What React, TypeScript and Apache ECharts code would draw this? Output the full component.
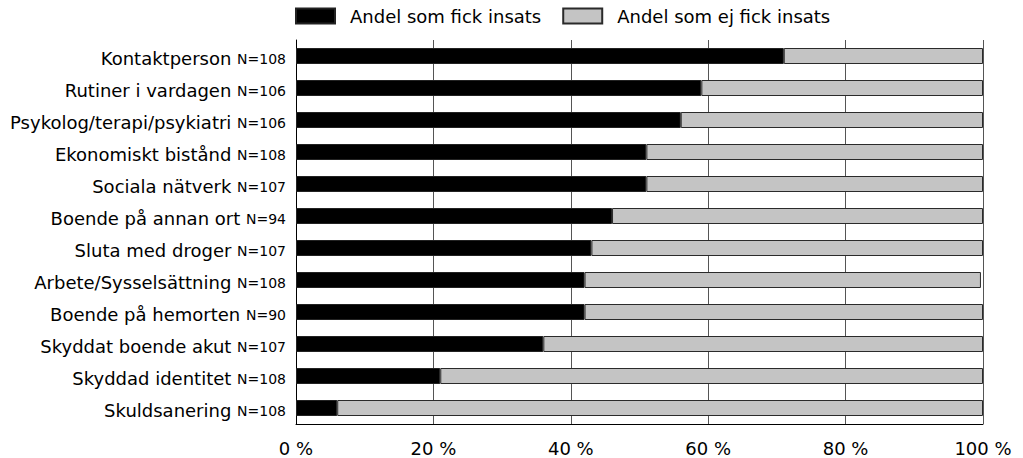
import React, { useEffect, useRef } from "react";
import * as echarts from "echarts";

const categories = [
  "Kontaktperson",
  "Rutiner i vardagen",
  "Psykolog/terapi/psykiatri",
  "Ekonomiskt bistånd",
  "Sociala nätverk",
  "Boende på annan ort",
  "Sluta med droger",
  "Arbete/Sysselsättning",
  "Boende på hemorten",
  "Skyddat boende akut",
  "Skyddad identitet",
  "Skuldsanering",
];
const sampleSizes = ["N=108", "N=106", "N=106", "N=108", "N=107", "N=94", "N=107", "N=108", "N=90", "N=107", "N=108", "N=108"];
const receivedShare = [71, 59, 56, 51, 51, 46, 43, 42, 42, 36, 21, 6];
const notReceivedShare = [29, 41, 44, 49, 49, 54, 57, 57.7, 58, 64, 79, 94];
const xTicks = [0, 20, 40, 60, 80, 100];
const seriesNames = ["Andel som fick insats", "Andel som ej fick insats"];

const FONT = "DejaVu Sans";

export default function App() {
  const ref = useRef<HTMLDivElement>(null);
  useEffect(() => {
    document.body.style.margin = "0";
    if (!ref.current) return;
    const chart = echarts.init(ref.current, undefined, { renderer: "svg" });
    chart.setOption({
      animation: false,
      backgroundColor: "#ffffff",
      textStyle: { fontFamily: FONT, color: "#000" },
      legend: {
        left: 290,
        top: 2,
        icon: "rect",
        itemWidth: 39,
        itemHeight: 15,
        itemGap: 21,
        textStyle: { fontFamily: FONT, fontSize: 18, color: "#000", padding: [0, 0, 0, 10] },
        data: seriesNames,
      },
      grid: { left: 296, right: 40, top: 40, bottom: 34, containLabel: false },
      xAxis: {
        type: "value",
        min: xTicks[0],
        max: xTicks[xTicks.length - 1],
        interval: 20,
        axisLine: { show: true, lineStyle: { color: "#000", width: 1 } },
        axisTick: { show: false },
        axisLabel: {
          margin: 15,
          fontFamily: FONT,
          fontSize: 18,
          color: "#000",
          formatter: (v: number) => `${v} %`,
        },
        splitLine: { show: true, lineStyle: { color: "#555", width: 1 } },
      },
      yAxis: {
        type: "category",
        inverse: true,
        data: categories,
        axisLine: { show: true, lineStyle: { color: "#000", width: 1 } },
        axisTick: { show: false },
        axisLabel: {
          margin: 10,
          formatter: (v: string, i: number) => `{a|${v} }{b|${sampleSizes[i]}}`,
          rich: {
            a: { fontFamily: FONT, fontSize: 18, color: "#000", verticalAlign: "bottom", lineHeight: 22 },
            b: { fontFamily: FONT, fontSize: 14, color: "#000", verticalAlign: "bottom", lineHeight: 22, padding: [0, 0, 1, 0] },
          },
        },
      },
      series: [
        {
          name: seriesNames[0],
          type: "bar",
          stack: "total",
          barWidth: 16,
          data: receivedShare,
          itemStyle: { color: "#000000", borderColor: "#222", borderWidth: 1 },
        },
        {
          name: seriesNames[1],
          type: "bar",
          stack: "total",
          barWidth: 16,
          data: notReceivedShare,
          itemStyle: { color: "#c4c4c4", borderColor: "#2a2a2a", borderWidth: 1 },
        },
      ],
    });
    return () => chart.dispose();
  }, []);
  return <div ref={ref} style={{ width: 1023, height: 458 }} />;
}
